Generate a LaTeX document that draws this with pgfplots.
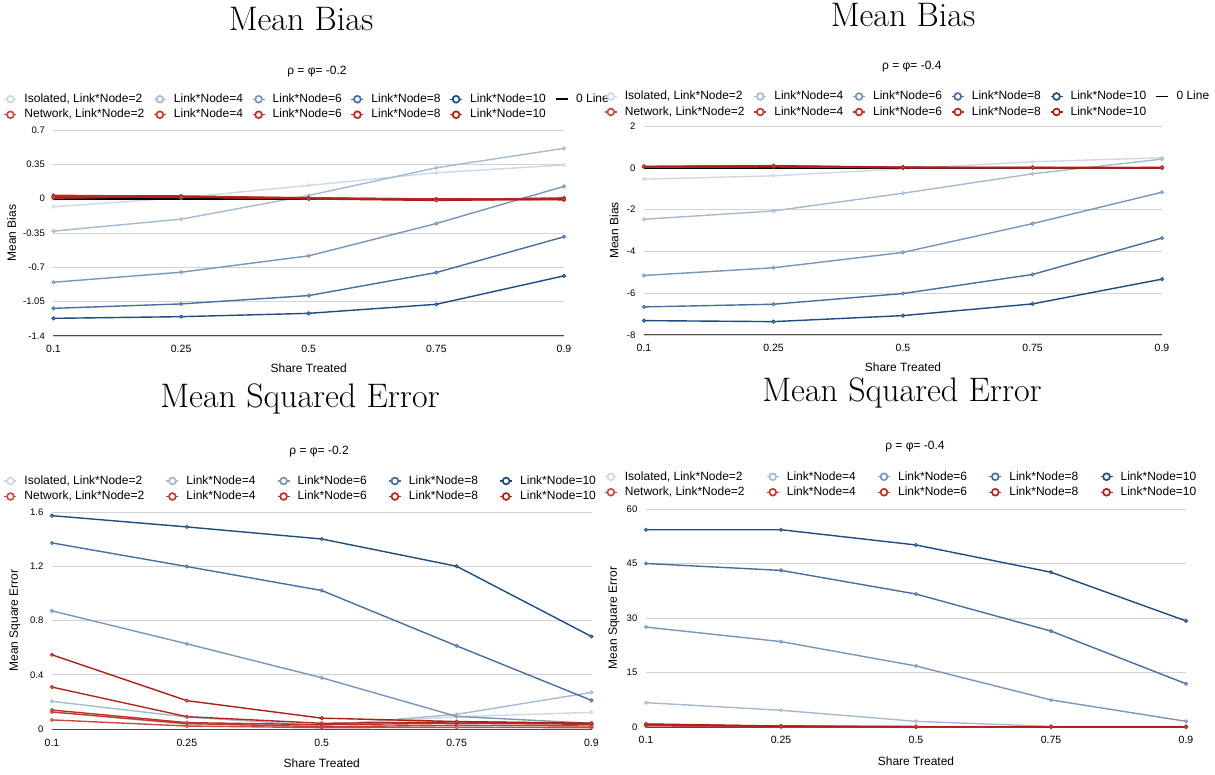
\documentclass[border=0pt]{standalone}
\usepackage{pgfplots}
\pgfplotsset{compat=1.18}
\usepackage{pgfplotstable}
\usepackage{fontspec}
\newfontfamily\arial{Liberation Sans}

\definecolor{cI2}{RGB}{205,216,228}
\definecolor{cI4}{RGB}{165,185,208}
\definecolor{cI6}{RGB}{120,150,185}
\definecolor{cI8}{RGB}{72,110,160}
\definecolor{cI10}{RGB}{30,75,130}
\definecolor{cN2}{RGB}{200,75,65}
\definecolor{cN4}{RGB}{192,60,50}
\definecolor{cN6}{RGB}{185,50,40}
\definecolor{cN8}{RGB}{178,40,30}
\definecolor{cN10}{RGB}{170,32,22}
\definecolor{gridc}{RGB}{210,210,210}

% Mean bias, rho = phi = -0.2
\pgfplotstableread{
x I2 I4 I6 I8 I10 N2 N4 N6 N8 N10 Z
0 -0.083 -0.331 -0.852 -1.118 -1.220 0.020 0.035 0.005 0.028 0.012 0
1 0.010 -0.209 -0.750 -1.073 -1.203 0.012 0.022 0.020 0.028 0.018 0
2 0.135 0.033 -0.583 -0.988 -1.169 0.010 0.005 0.000 0.008 -0.003 0
3 0.264 0.315 -0.253 -0.753 -1.077 -0.005 -0.012 -0.010 -0.003 -0.018 0
4 0.343 0.513 0.125 -0.389 -0.787 0.002 -0.008 0.008 -0.012 -0.004 0
}\tlt
% Mean bias, rho = phi = -0.4
\pgfplotstableread{
x I2 I4 I6 I8 I10 N2 N4 N6 N8 N10 Z
0 -0.544 -2.464 -5.152 -6.656 -7.312 0.05 0.03 0.06 0.04 0.07 0
1 -0.384 -2.064 -4.784 -6.528 -7.360 0.08 0.05 0.10 0.06 0.09 0
2 -0.048 -1.216 -4.048 -6.016 -7.072 0.02 0.00 0.03 0.01 0.02 0
3 0.288 -0.288 -2.672 -5.104 -6.512 0.01 0.00 0.02 0.00 0.01 0
4 0.480 0.416 -1.168 -3.360 -5.328 0.00 0.01 0.00 0.02 0.00 0
}\trt
% MSE, rho = phi = -0.2
\pgfplotstableread{
x I2 I4 I6 I8 I10 N2 N4 N6 N8 N10
0 0.130 0.204 0.871 1.372 1.573 0.067 0.125 0.140 0.309 0.547
1 0.032 0.088 0.628 1.198 1.490 0.022 0.040 0.047 0.091 0.209
2 0.030 0.025 0.378 1.021 1.401 0.010 0.017 0.032 0.042 0.080
3 0.090 0.108 0.093 0.613 1.200 0.012 0.027 0.042 0.052 0.055
4 0.123 0.270 0.042 0.211 0.682 0.010 0.022 0.035 0.042 0.042
}\blt
% MSE, rho = phi = -0.4
\pgfplotstableread{
x I2 I4 I6 I8 I10 N2 N4 N6 N8 N10
0 0.60 6.70 27.5 45.0 54.3 0.30 0.50 0.60 0.70 0.85
1 0.30 4.60 23.5 43.1 54.3 0.10 0.15 0.18 0.20 0.25
2 0.15 1.56 16.8 36.6 50.1 0.05 0.06 0.07 0.08 0.08
3 0.08 0.15 7.45 26.4 42.6 0.03 0.04 0.04 0.05 0.05
4 0.10 0.12 1.56 11.9 29.2 0.03 0.04 0.04 0.05 0.05
}\brt

\pgfplotsset{
  ser/.style={color=#1, line width=1.4pt, mark=*, mark size=1.6pt,
    mark options={solid, fill=#1!55!white, line width=0.8pt},
    legend image code/.code={
      \draw[#1, line width=1.3pt] (0pt,0pt) -- (12pt,0pt);
      \draw[#1, line width=1.7pt, fill=white] (6pt,0pt) circle (3.4pt);}},
  zero/.style={black, line width=2pt, mark=none,
    legend image code/.code={\draw[black, line width=1.8pt] (0pt,0pt) -- (12pt,0pt);}},
  panel/.style={
    scale only axis, clip=false,
    xmin=0, xmax=4, xtick={0,1,2,3,4}, xticklabels={0.1,0.25,0.5,0.75,0.9},
    axis lines*=left,
    y axis line style={draw=none},
    x axis line style={draw=black!70, line width=1pt},
    major tick length=0pt, tick style={draw=none},
    ymajorgrids, grid style={gridc, line width=0.9pt},
    xticklabel style={font=\arial\fontsize{10.5}{12}\selectfont, anchor=center, inner sep=0pt},
    yticklabel style={font=\arial\fontsize{9.5}{11}\selectfont, anchor=east, inner sep=0pt, xshift=-8.5pt},
    label style={font=\arial\fontsize{12}{14}\selectfont},
    title style={font=\arial\fontsize{12}{14}\selectfont, anchor=center},
    xlabel={Share Treated},
    legend cell align=left,
    legend style={draw=none, fill=none, inner sep=0pt, font=\arial\fontsize{12}{14}\selectfont,
      column sep=7.4pt, row sep=4pt,
      nodes={inner sep=0pt, text height=9pt, text depth=2.5pt},
      at={(rel axis cs:0,1)}, anchor=west},
  },
}

\begin{document}
\begin{tikzpicture}
\path[use as bounding box] (0pt,0pt) rectangle (1215pt,774pt);

\node[anchor=base, font=\fontsize{34}{40}\selectfont] at (301pt,743pt) {Mean Bias};
\node[anchor=base, font=\fontsize{34}{40}\selectfont] at (903pt,747pt) {Mean Bias};
\node[anchor=base, font=\fontsize{34}{40}\selectfont] at (300pt,366pt) {Mean Squared Error};
\node[anchor=base, font=\fontsize{34}{40}\selectfont] at (902pt,372pt) {Mean Squared Error};

% ---------------- top left ----------------
\begin{axis}[panel,
  at={(53.5pt,438pt)}, anchor=south west, width=510.5pt, height=206pt,
  ymin=-1.4, ymax=0.7,
  ytick={-1.4,-1.05,-0.7,-0.35,0,0.35,0.7},
  yticklabels={-1.4,-1.05,-0.7,-0.35,0,0.35,0.7},
  xticklabel style={yshift=-12.5pt},
  ylabel={Mean Bias}, ylabel style={at={(rel axis cs:-0.0823,0.5)}, anchor=center},
  xlabel style={at={(rel axis cs:0.5,-0.155)}, anchor=center},
  title={ρ = φ= -0.2}, title style={at={(rel axis cs:0.516,1.2524)}},
  legend columns=6,
  legend style={xshift=-49.9pt, yshift=23pt, /tikz/every even column/.append style={column sep=9pt}},
]
\addplot[ser=cI2]  table[x=x,y=I2]  {\tlt}; \addlegendentry{Isolated, Link*Node=2}
\addplot[ser=cI4]  table[x=x,y=I4]  {\tlt}; \addlegendentry{Link*Node=4}
\addplot[ser=cI6]  table[x=x,y=I6]  {\tlt}; \addlegendentry{Link*Node=6}
\addplot[ser=cI8]  table[x=x,y=I8]  {\tlt}; \addlegendentry{Link*Node=8}
\addplot[ser=cI10] table[x=x,y=I10] {\tlt}; \addlegendentry{Link*Node=10}
\addplot[zero]     table[x=x,y=Z]   {\tlt}; \addlegendentry{0 Line}
\addplot[ser=cN2]  table[x=x,y=N2]  {\tlt}; \addlegendentry{Network, Link*Node=2}
\addplot[ser=cN4]  table[x=x,y=N4]  {\tlt}; \addlegendentry{Link*Node=4}
\addplot[ser=cN6]  table[x=x,y=N6]  {\tlt}; \addlegendentry{Link*Node=6}
\addplot[ser=cN8]  table[x=x,y=N8]  {\tlt}; \addlegendentry{Link*Node=8}
\addplot[ser=cN10] table[x=x,y=N10] {\tlt}; \addlegendentry{Link*Node=10}
\end{axis}

% ---------------- top right ----------------
\begin{axis}[panel,
  at={(644pt,439pt)}, anchor=south west, width=518pt, height=209pt,
  ymin=-8, ymax=2,
  ytick={-8,-6,-4,-2,0,2},
  yticklabels={-8,-6,-4,-2,0,2},
  xticklabel style={yshift=-12.5pt},
  ylabel={Mean Bias}, ylabel style={at={(rel axis cs:-0.0579,0.5)}, anchor=center},
  xlabel style={at={(rel axis cs:0.5,-0.153)}, anchor=center},
  title={ρ = φ= -0.4}, title style={at={(rel axis cs:0.517,1.258)}},
  legend columns=6,
  legend style={xshift=-40pt, yshift=21.75pt, /tikz/every even column/.append style={column sep=9pt}},
]
\addplot[ser=cI2]  table[x=x,y=I2]  {\trt}; \addlegendentry{Isolated, Link*Node=2}
\addplot[ser=cI4]  table[x=x,y=I4]  {\trt}; \addlegendentry{Link*Node=4}
\addplot[ser=cI6]  table[x=x,y=I6]  {\trt}; \addlegendentry{Link*Node=6}
\addplot[ser=cI8]  table[x=x,y=I8]  {\trt}; \addlegendentry{Link*Node=8}
\addplot[ser=cI10] table[x=x,y=I10] {\trt}; \addlegendentry{Link*Node=10}
\addplot[zero]     table[x=x,y=Z]   {\trt}; \addlegendentry{0 Line}
\addplot[ser=cN2]  table[x=x,y=N2]  {\trt}; \addlegendentry{Network, Link*Node=2}
\addplot[ser=cN4]  table[x=x,y=N4]  {\trt}; \addlegendentry{Link*Node=4}
\addplot[ser=cN6]  table[x=x,y=N6]  {\trt}; \addlegendentry{Link*Node=6}
\addplot[ser=cN8]  table[x=x,y=N8]  {\trt}; \addlegendentry{Link*Node=8}
\addplot[ser=cN10] table[x=x,y=N10] {\trt}; \addlegendentry{Link*Node=10}
\end{axis}

% ---------------- bottom left ----------------
\begin{axis}[panel,
  at={(52pt,45pt)}, anchor=south west, width=539.5pt, height=217pt,
  ymin=0, ymax=1.6,
  ytick={0,0.4,0.8,1.2,1.6},
  yticklabels={0,0.4,0.8,1.2,1.6},
  xticklabel style={yshift=-13.5pt},
  ylabel={Mean Square Error}, ylabel style={at={(rel axis cs:-0.0686,0.5)}, anchor=center},
  xlabel style={at={(rel axis cs:0.5,-0.157)}, anchor=center},
  title={ρ = φ= -0.2}, title style={at={(rel axis cs:0.495,1.253)}},
  legend columns=5,
  legend style={xshift=-48.4pt, yshift=23.25pt, /tikz/every even column/.append style={column sep=21.5pt}},
]
\addplot[ser=cI2]  table[x=x,y=I2]  {\blt}; \addlegendentry{Isolated, Link*Node=2}
\addplot[ser=cI4]  table[x=x,y=I4]  {\blt}; \addlegendentry{Link*Node=4}
\addplot[ser=cI6]  table[x=x,y=I6]  {\blt}; \addlegendentry{Link*Node=6}
\addplot[ser=cI8]  table[x=x,y=I8]  {\blt}; \addlegendentry{Link*Node=8}
\addplot[ser=cI10] table[x=x,y=I10] {\blt}; \addlegendentry{Link*Node=10}
\addplot[ser=cN2]  table[x=x,y=N2]  {\blt}; \addlegendentry{Network, Link*Node=2}
\addplot[ser=cN4]  table[x=x,y=N4]  {\blt}; \addlegendentry{Link*Node=4}
\addplot[ser=cN6]  table[x=x,y=N6]  {\blt}; \addlegendentry{Link*Node=6}
\addplot[ser=cN8]  table[x=x,y=N8]  {\blt}; \addlegendentry{Link*Node=8}
\addplot[ser=cN10] table[x=x,y=N10] {\blt}; \addlegendentry{Link*Node=10}
\end{axis}

% ---------------- bottom right ----------------
\begin{axis}[panel,
  at={(646pt,47pt)}, anchor=south west, width=540pt, height=218pt,
  ymin=0, ymax=60,
  ytick={0,15,30,45,60},
  yticklabels={0,15,30,45,60},
  xticklabel style={yshift=-13pt},
  ylabel={Mean Square Error}, ylabel style={at={(rel axis cs:-0.0593,0.5)}, anchor=center},
  xlabel style={at={(rel axis cs:0.5,-0.156)}, anchor=center},
  title={ρ = φ= -0.4}, title style={at={(rel axis cs:0.498,1.257)}},
  legend columns=5,
  legend style={xshift=-42pt, yshift=24.5pt, /tikz/every even column/.append style={column sep=21.5pt}},
]
\addplot[ser=cI2]  table[x=x,y=I2]  {\brt}; \addlegendentry{Isolated, Link*Node=2}
\addplot[ser=cI4]  table[x=x,y=I4]  {\brt}; \addlegendentry{Link*Node=4}
\addplot[ser=cI6]  table[x=x,y=I6]  {\brt}; \addlegendentry{Link*Node=6}
\addplot[ser=cI8]  table[x=x,y=I8]  {\brt}; \addlegendentry{Link*Node=8}
\addplot[ser=cI10] table[x=x,y=I10] {\brt}; \addlegendentry{Link*Node=10}
\addplot[ser=cN2]  table[x=x,y=N2]  {\brt}; \addlegendentry{Network, Link*Node=2}
\addplot[ser=cN4]  table[x=x,y=N4]  {\brt}; \addlegendentry{Link*Node=4}
\addplot[ser=cN6]  table[x=x,y=N6]  {\brt}; \addlegendentry{Link*Node=6}
\addplot[ser=cN8]  table[x=x,y=N8]  {\brt}; \addlegendentry{Link*Node=8}
\addplot[ser=cN10] table[x=x,y=N10] {\brt}; \addlegendentry{Link*Node=10}
\end{axis}
\end{tikzpicture}
\end{document}
